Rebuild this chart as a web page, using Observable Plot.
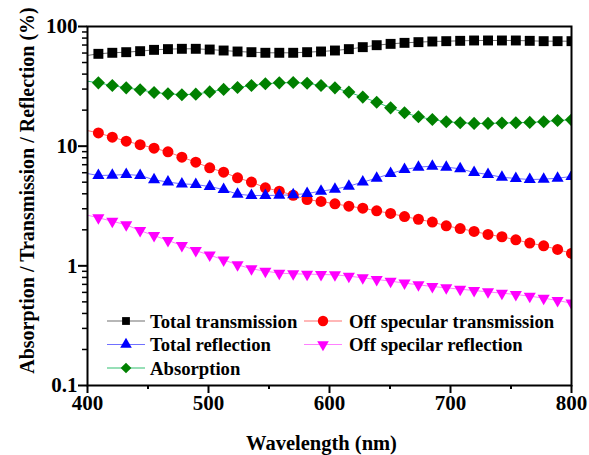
<!DOCTYPE html>
<html><head><meta charset="utf-8">
<script src="https://cdn.jsdelivr.net/npm/d3@7"></script>
<script src="https://cdn.jsdelivr.net/npm/@observablehq/plot@0.6"></script>
<style>html,body{margin:0;padding:0;background:#fff} #chart svg{display:block}</style>
</head><body><div id="chart"></div>
<script>
// ---- data ----
const wavelength = [409, 420.5, 432, 443.5, 455, 466.5, 478, 489.5, 501, 512.5, 524, 535.5, 547, 558.5, 570, 581.5, 593, 604.5, 616, 627.5, 639, 650.5, 662, 673.5, 685, 696.5, 708, 719.5, 731, 742.5, 754, 765.5, 777, 788.5, 800];
const totalTransmission = [59.1, 60.3, 61.0, 62.2, 63.8, 64.7, 65.1, 65.1, 64.2, 63.0, 61.8, 61.0, 60.3, 60.3, 60.3, 61.0, 61.8, 63.0, 64.7, 67.2, 69.8, 71.6, 73.0, 74.0, 74.9, 75.4, 75.9, 76.4, 76.4, 76.4, 76.4, 75.9, 75.4, 75.4, 75.4];
const offSpecularTransmission = [12.9, 11.9, 11.0, 10.3, 9.62, 8.97, 8.09, 7.35, 6.59, 6.06, 5.44, 5.01, 4.49, 4.21, 3.89, 3.58, 3.45, 3.30, 3.15, 3.03, 2.88, 2.74, 2.58, 2.45, 2.32, 2.16, 2.05, 1.94, 1.83, 1.75, 1.65, 1.55, 1.47, 1.37, 1.27];
const totalReflection = [5.69, 5.72, 5.80, 5.69, 5.24, 5.01, 4.84, 4.78, 4.60, 4.34, 3.97, 3.87, 3.87, 3.89, 3.92, 4.02, 4.21, 4.37, 4.63, 5.01, 5.40, 5.91, 6.38, 6.68, 6.81, 6.68, 6.47, 6.03, 5.80, 5.50, 5.37, 5.26, 5.30, 5.40, 5.58];
const offSpecularReflection = [2.52, 2.36, 2.20, 1.97, 1.79, 1.63, 1.48, 1.34, 1.23, 1.12, 1.02, 0.944, 0.903, 0.869, 0.858, 0.852, 0.847, 0.841, 0.820, 0.794, 0.769, 0.745, 0.717, 0.694, 0.672, 0.655, 0.638, 0.622, 0.606, 0.591, 0.576, 0.558, 0.537, 0.513, 0.488];
const absorption = [33.8, 32.1, 30.7, 29.6, 28.1, 27.4, 26.9, 27.2, 28.4, 29.8, 30.9, 32.1, 33.2, 33.8, 34.0, 33.6, 32.1, 30.7, 28.3, 25.7, 23.3, 20.9, 19.0, 17.6, 16.7, 16.0, 15.7, 15.5, 15.5, 15.6, 15.7, 15.8, 16.0, 16.4, 16.6];
// line values at the left edge (400 nm), series order as seriesNames
const lineStartWavelength = 400;
const lineStartValues = [57.3, 13.5, 5.9, 2.65, 34.9];
const seriesNames = ["Total transmission", "Off specular transmission", "Total reflection", "Off specilar reflection", "Absorption"];
const xTicks = [400, 500, 600, 700, 800];
const xMinorTicks = [450, 550, 650, 750];
const yTicks = [0.1, 1, 10, 100];
const yTickLabels = ["0.1", "1", "10", "100"];
const yMinorTicks = [0.2, 0.3, 0.4, 0.5, 0.6, 0.7, 0.8, 0.9, 2, 3, 4, 5, 6, 7, 8, 9, 20, 30, 40, 50, 60, 70, 80, 90];
const xTitle = "Wavelength (nm)";
const yTitle = "Absorption / Transmission / Reflection (%)";

// ---- styling ----
const sqrt3 = Math.sqrt(3);
const triangleDown = {
  draw(context, size) {
    const y = Math.sqrt(size / (sqrt3 * 3));
    context.moveTo(0, 2 * y);
    context.lineTo(sqrt3 * y, -y);
    context.lineTo(-sqrt3 * y, -y);
    context.closePath();
  }
};
const seriesValues = [totalTransmission, offSpecularTransmission, totalReflection, offSpecularReflection, absorption];
const styles = [
  {color: "#000000", line: "#707070", symbol: "square", r: 5.6, lr: 4.4, d3sym: d3.symbolSquare},
  {color: "#ff0000", line: "#ff7070", symbol: "circle", r: 5.5, lr: 5.2, d3sym: d3.symbolCircle},
  {color: "#0000ff", line: "#7070ff", symbol: "triangle", r: 4.5, lr: 4.3, d3sym: d3.symbolTriangle},
  {color: "#ff00ff", line: "#ff80ff", symbol: triangleDown, r: 4.5, lr: 4.3, d3sym: triangleDown},
  {color: "#008000", line: "#30c070", symbol: "diamond2", r: 5.9, lr: 4.8, d3sym: d3.symbolDiamond2}
];
const series = seriesNames.map((name, i) => ({
  name,
  ...styles[i],
  points: wavelength.map((x, j) => ({x, y: seriesValues[i][j]})),
  linePoints: [{x: lineStartWavelength, y: lineStartValues[i]}, ...wavelength.map((x, j) => ({x, y: seriesValues[i][j]}))]
}));

const W = 589, H = 455, mL = 87, mR = 18, mT = 26, mB = 70;
const font = "'Liberation Serif', 'Times New Roman', Times, serif";

const chart = Plot.plot({
  width: W, height: H,
  marginLeft: mL, marginRight: mR, marginTop: mT, marginBottom: mB,
  style: {fontFamily: font, fontWeight: "bold", background: "white", color: "black", overflow: "visible"},
  x: {domain: [400, 800]},
  y: {type: "log", domain: [0.1, 100]},
  marks: [
    ...series.map(s => Plot.line(s.linePoints, {x: "x", y: "y", stroke: s.line, strokeWidth: 1, clip: true})),
    ...series.map(s => Plot.dot(s.points, {x: "x", y: "y", symbol: s.symbol, r: s.r, fill: s.color, stroke: "none", clip: true})),
    Plot.axisX({ticks: xTicks, tickSize: 8, tickPadding: 2, fontSize: 21, strokeWidth: 2, label: null, tickFormat: d => String(d)}),
    Plot.axisX({ticks: xMinorTicks, tickSize: 4, strokeWidth: 2, fill: "none", label: null}),
    Plot.axisY({ticks: yTicks, tickSize: 9, tickPadding: 1, fontSize: 21, strokeWidth: 2, label: null, tickFormat: d => yTickLabels[yTicks.indexOf(d)]}),
    Plot.axisY({ticks: yMinorTicks, tickSize: 5, strokeWidth: 1.5, fill: "none", label: null}),
    Plot.frame({stroke: "black", strokeWidth: 2}),
    Plot.text([xTitle], {frameAnchor: "bottom", dx: -8, dy: 64, lineAnchor: "bottom", textAnchor: "middle", fontSize: 20.5, fill: "black"}),
    Plot.text([yTitle], {frameAnchor: "left", dx: 33 - mL, dy: 190 - (mT + (H - mT - mB) / 2), rotate: -90, lineAnchor: "bottom", textAnchor: "middle", fontSize: 20, fill: "black"})
  ]
});
document.getElementById("chart").appendChild(chart);

// ---- legend (layout only) ----
const legendRows = [321, 344.5, 368];
const legendCols = [{x0: 107, x1: 145, mx: 126, tx: 150}, {x0: 304, x1: 342, mx: 323, tx: 349}];
const svg = d3.select(chart);
const lg = svg.append("g").attr("font-family", font).attr("font-weight", "bold").attr("font-size", 18.7).attr("text-anchor", "start");
series.forEach((s, i) => {
  const c = legendCols[i % 2], y = legendRows[Math.floor(i / 2)];
  lg.append("line").attr("x1", c.x0).attr("x2", c.x1).attr("y1", y).attr("y2", y).attr("stroke", s.line).attr("stroke-width", 1.2);
  lg.append("path").attr("d", d3.symbol(s.d3sym, Math.PI * s.lr * s.lr)()).attr("transform", `translate(${c.mx},${y})`).attr("fill", s.color);
  lg.append("text").attr("x", c.tx).attr("y", y).attr("dy", "0.35em").attr("text-anchor", "start").attr("fill", "black").text(s.name);
});
</script>
</body></html>
